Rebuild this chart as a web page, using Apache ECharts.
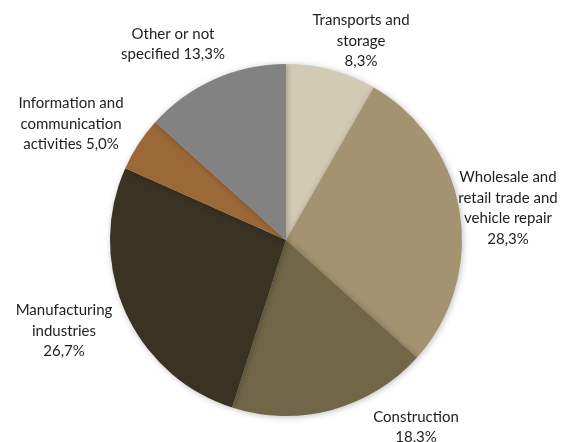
<!DOCTYPE html>
<html>
<head>
<meta charset="utf-8">
<script src="https://cdn.jsdelivr.net/npm/echarts@6/dist/echarts.min.js"></script>
<style>
  html, body { margin: 0; padding: 0; background: #ffffff; }
  #chart { width: 573px; height: 442px; }
</style>
</head>
<body>
<div id="chart"></div>
<script>
// Employment share by sector (percent)
const sectors = [
  'Transports and\nstorage',
  'Wholesale and\nretail trade and\nvehicle repair',
  'Construction',
  'Manufacturing\nindustries',
  'Information and\ncommunication\nactivities',
  'Other or not\nspecified'
];
const shares = [8.3, 28.3, 18.3, 26.7, 5.0, 13.3];
const sliceColors = ['#d3cab3', '#a39371', '#726648', '#3a3324', '#9b6838', '#828282'];
// whether the percentage sits on its own line below the name
const pctOnNewLine = [true, true, true, true, false, false];

// label anchor points (centre of the text block, in px)
const labelSpots = [
  [361, 41], [508, 208], [416, 427], [64, 331], [71, 124], [173, 44]
];

const chart = echarts.init(document.getElementById('chart'));

const fmt = v => v.toFixed(1).replace('.', ',') + '%';

chart.setOption({
  animation: false,
  series: [{
    type: 'pie',
    center: [286, 240],
    radius: 176,
    startAngle: 90,
    clockwise: true,
    data: sectors.map((name, i) => ({
      name: name,
      value: shares[i],
      itemStyle: { color: sliceColors[i] }
    })),
    itemStyle: {
      borderWidth: 0,
      shadowBlur: 6,
      shadowColor: 'rgba(0,0,0,0.25)',
      shadowOffsetX: 1,
      shadowOffsetY: 1
    },
    label: {
      show: true,
      position: 'outside',
      overflow: 'none',
      fontFamily: 'Lato, "Open Sans", sans-serif',
      fontSize: 15,
      lineHeight: 20.5,
      color: '#1e1e1e',
      align: 'center',
      formatter: p => p.name + (pctOnNewLine[p.dataIndex] ? '\n' : ' ') + fmt(p.value)
    },
    labelLine: { show: false },
    labelLayout: p => ({
      x: labelSpots[p.dataIndex][0],
      y: labelSpots[p.dataIndex][1],
      align: 'center',
      verticalAlign: 'middle',
      hideOverlap: false
    }),
    emphasis: { disabled: true }
  }]
});
</script>
</body>
</html>
